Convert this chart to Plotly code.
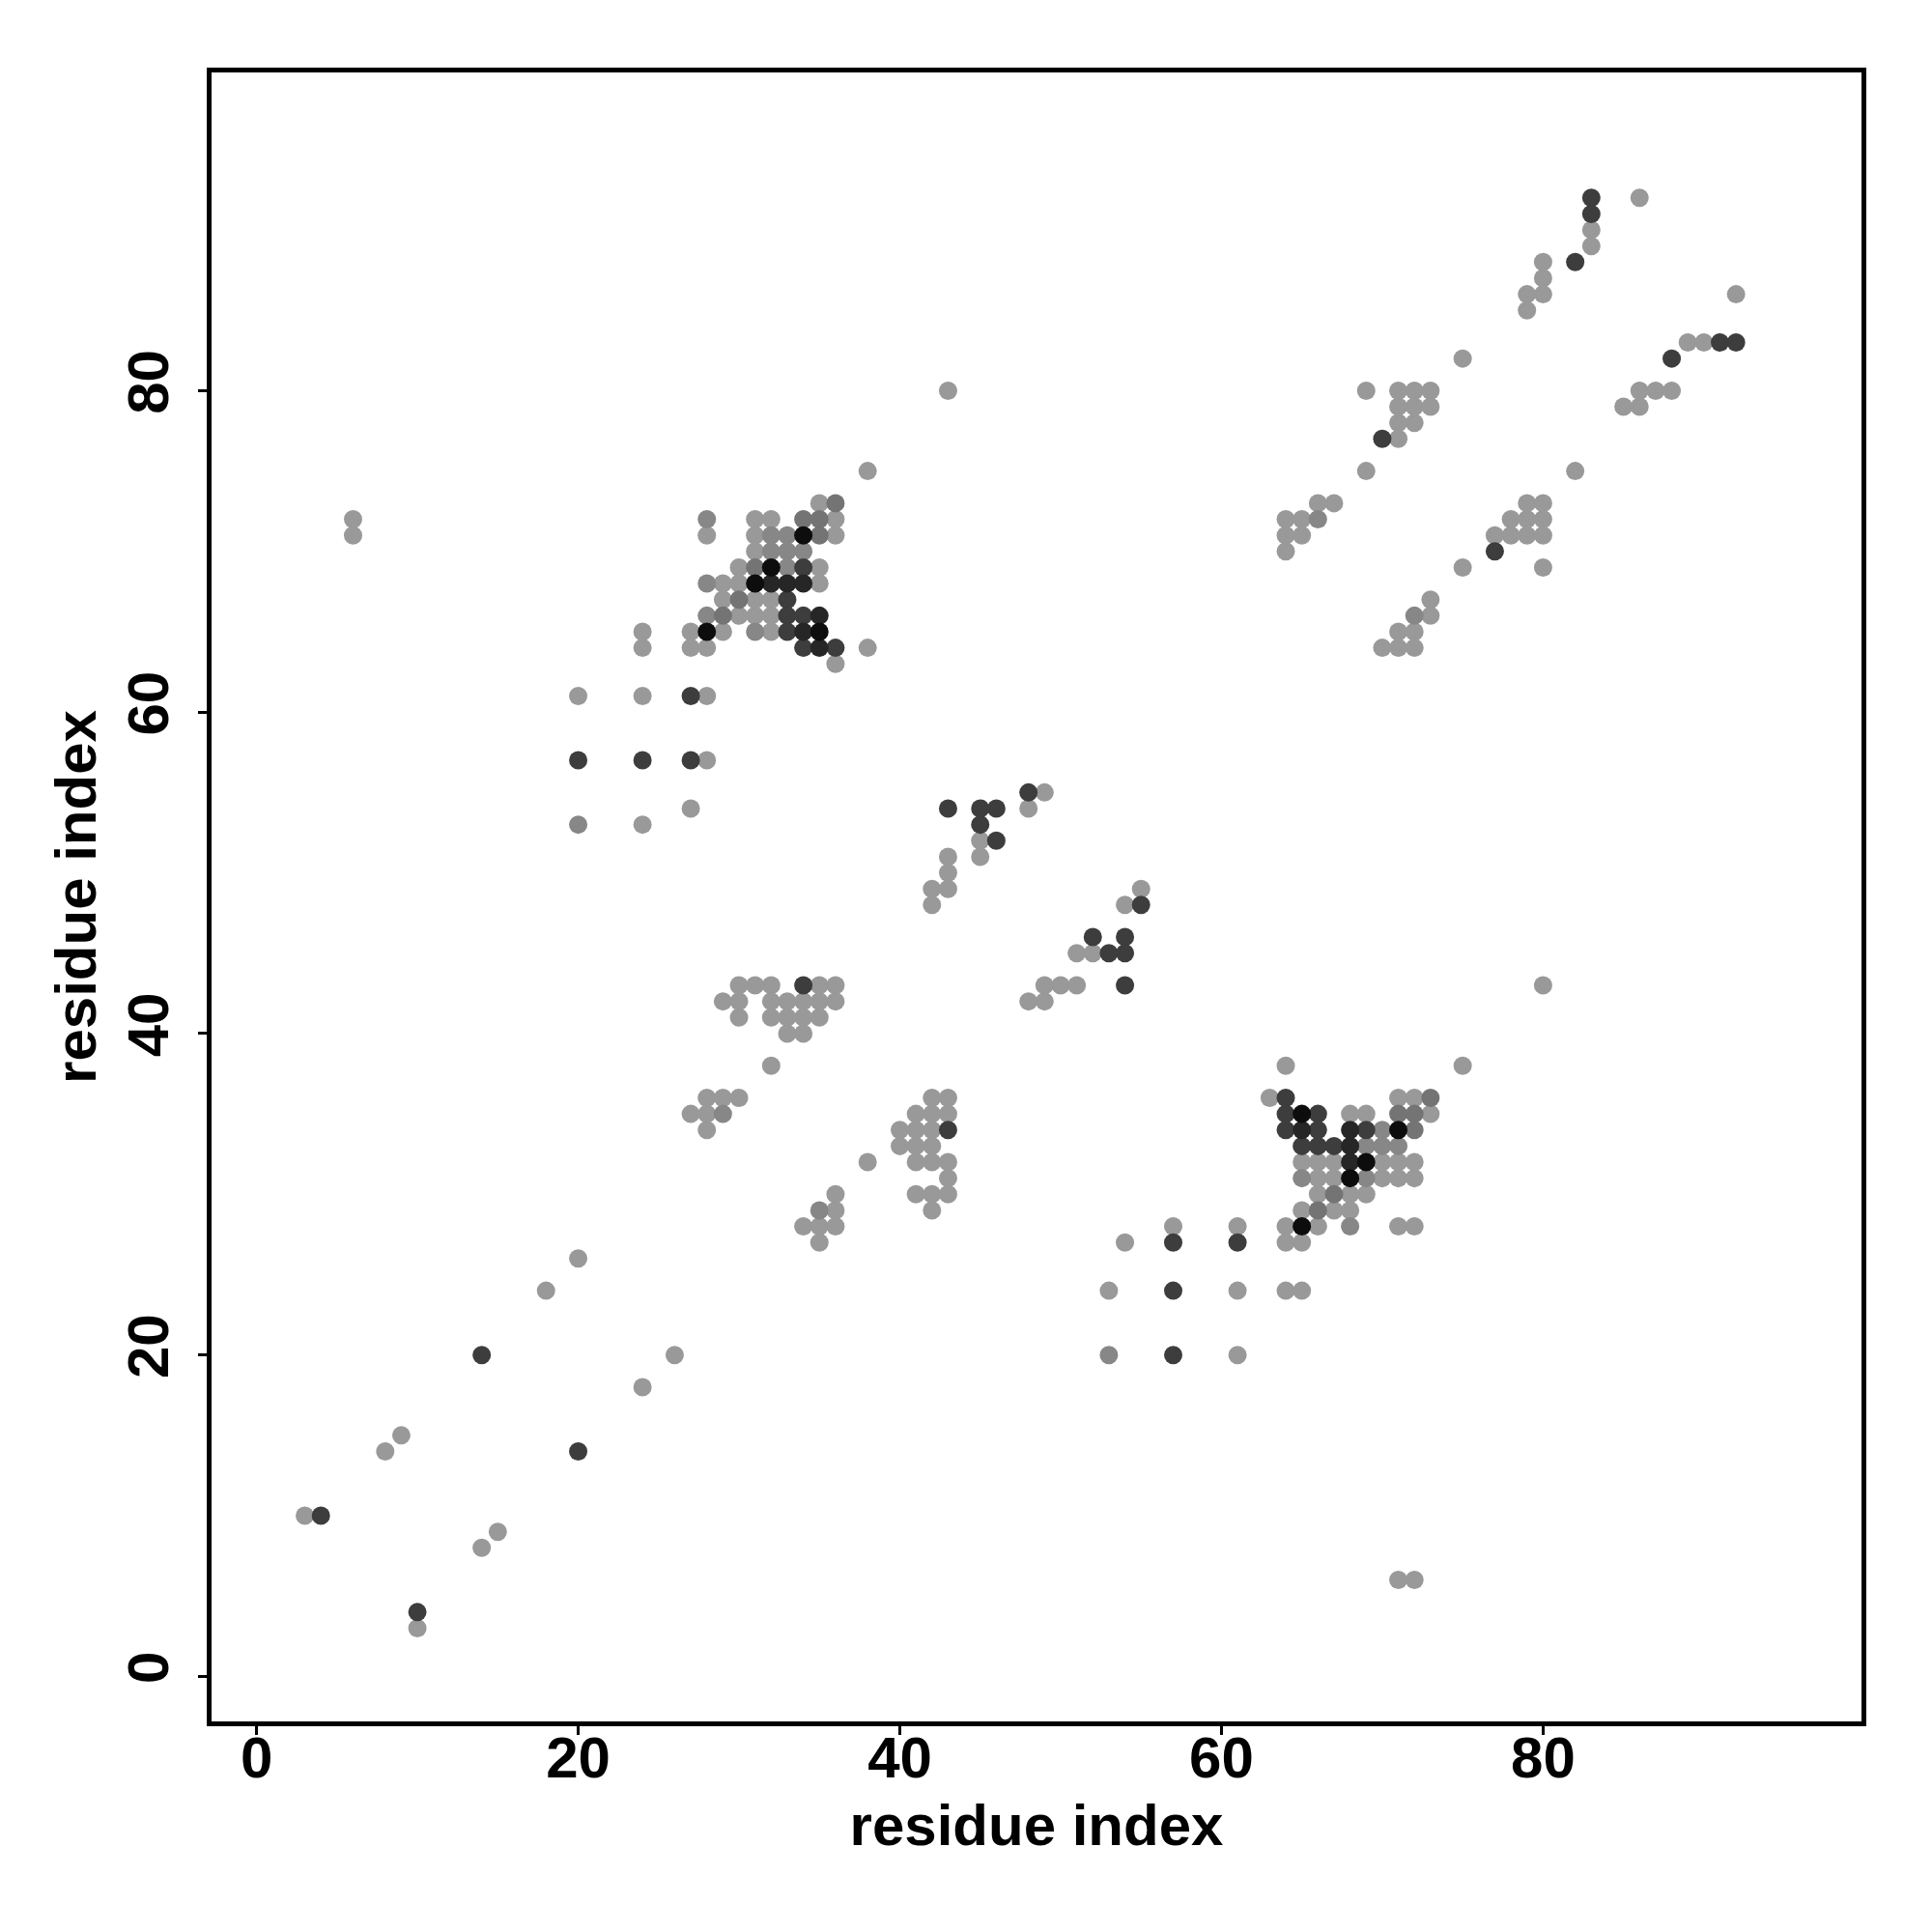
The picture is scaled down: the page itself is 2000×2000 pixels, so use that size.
import plotly.graph_objects as go

# Contact points grouped by grey shade (x = residue i, y = residue j)
light_pts = [
    (3, 10), (8, 14), (9, 15), (10, 3), (14, 8), (15, 9), (18, 24), (20, 26), (24, 18), (26, 20),
    (6, 71), (6, 72),
    (20, 61), (24, 61), (28, 61), (28, 57), (27, 54), (24, 53),
    (24, 64), (24, 65), (27, 64), (27, 65), (28, 64), (29, 65), (32, 65), (30, 66), (31, 66), (32, 66),
    (29, 67), (31, 67), (32, 67), (29, 68), (30, 68), (35, 68), (30, 69), (35, 69), (31, 70), (28, 71),
    (31, 71), (36, 71), (31, 72), (32, 72), (36, 72), (35, 73), (38, 75), (38, 64), (36, 63),
    (43, 80),
    (30, 43), (31, 43), (32, 43), (35, 43), (36, 43),
    (29, 42), (30, 42), (32, 42), (33, 42), (34, 42), (35, 42), (36, 42),
    (30, 41), (32, 41), (33, 41), (34, 41), (35, 41), (33, 40), (34, 40), (32, 38),
    (28, 36), (29, 36), (30, 36), (27, 35), (28, 35), (28, 34),
    (42, 36), (43, 36), (41, 35), (42, 35), (43, 35), (40, 34), (41, 34), (42, 34),
    (40, 33), (41, 33), (42, 33), (38, 32), (41, 32), (42, 32), (43, 32), (43, 31),
    (41, 30), (42, 30), (43, 30), (42, 29),
    (36, 30), (36, 29), (34, 28), (35, 28), (36, 28), (35, 27),
    (48, 54), (45, 52), (45, 51), (43, 51), (43, 50), (43, 49), (42, 49), (42, 48),
    (49, 55), (55, 49), (54, 48), (51, 45), (52, 45), (49, 43), (50, 43), (51, 43), (48, 42), (49, 42),
    (54, 27), (57, 28), (61, 28), (53, 24), (61, 24), (61, 20),
    (64, 38), (75, 38), (63, 36), (71, 36), (72, 36), (68, 35), (69, 35), (73, 35),
    (65, 32), (66, 32), (67, 32), (70, 32), (71, 32), (72, 32),
    (66, 31), (67, 31), (70, 31), (71, 31), (72, 31), (66, 30), (68, 30), (69, 30),
    (65, 29), (67, 29), (68, 29), (64, 28), (66, 28), (71, 28), (72, 28), (64, 27), (65, 27),
    (64, 24), (65, 24), (71, 6), (72, 6), (80, 43),
    (86, 92), (83, 90), (83, 89), (80, 88), (80, 87), (79, 86), (80, 86), (92, 86), (79, 85),
    (89, 83), (90, 83), (75, 82), (69, 80), (71, 80), (72, 80), (73, 80), (86, 80), (87, 80), (88, 80),
    (71, 79), (72, 79), (73, 79), (85, 79), (86, 79), (71, 78), (72, 78), (71, 77), (69, 75), (82, 75),
    (66, 73), (67, 73), (79, 73), (80, 73), (64, 72), (65, 72), (78, 72), (79, 72), (80, 72),
    (64, 71), (65, 71), (77, 71), (78, 71), (79, 71), (80, 71), (64, 70), (75, 69), (80, 69),
    (73, 67), (73, 66), (71, 65), (72, 65), (70, 64), (71, 64), (72, 64),
]
mid_pts = [
    (20, 53), (28, 72), (33, 71), (32, 71), (32, 70), (33, 70), (34, 70), (33, 69), (28, 68),
    (28, 66), (31, 65), (29, 35), (35, 29), (70, 34), (69, 33), (70, 33), (71, 33), (65, 31),
    (69, 31), (68, 28), (53, 20), (66, 72), (72, 66),
]
middark_pts = [
    (36, 73), (34, 72), (35, 72), (35, 71), (31, 69), (30, 67), (29, 66),
    (73, 36), (71, 35), (72, 35), (72, 34), (67, 30), (66, 29),
]
dark_pts = [
    (4, 10), (10, 4), (14, 20), (20, 14), (20, 57), (24, 57), (27, 57), (27, 61),
    (34, 69), (33, 67), (33, 66), (34, 66), (33, 65), (34, 64), (36, 64), (34, 43), (43, 34),
    (43, 54), (45, 54), (46, 54), (45, 53), (46, 52), (48, 55), (55, 48), (52, 46), (54, 46),
    (53, 45), (54, 45), (54, 43), (57, 27), (61, 27), (57, 24), (57, 20),
    (64, 36), (64, 35), (66, 35), (64, 34), (66, 34), (69, 34), (65, 33), (66, 33), (67, 33),
    (83, 92), (83, 91), (82, 88), (91, 83), (92, 83), (88, 82), (70, 77), (77, 70),
]
darker_pts = [
    (32, 68), (33, 68), (34, 68), (35, 66), (34, 65), (35, 64), (65, 34), (68, 33), (68, 32), (68, 34),
]
black_pts = [
    (34, 71), (32, 69), (31, 68), (28, 65), (35, 65), (65, 35), (71, 34), (69, 32), (68, 31), (65, 28),
]

x_ticks = [0, 20, 40, 60, 80]
axis_range = [-2.8, 99.8]

groups = [
    (light_pts, "#999999"),
    (mid_pts, "#878787"),
    (middark_pts, "#747474"),
    (dark_pts, "#3d3d3d"),
    (darker_pts, "#262626"),
    (black_pts, "#0d0d0d"),
]

fig = go.Figure()
for pts, col in groups:
    fig.add_trace(go.Scatter(
        x=[p[0] for p in pts], y=[p[1] for p in pts], mode="markers",
        marker=dict(size=19, color=col, line=dict(width=0)),
        showlegend=False, hoverinfo="skip",
    ))

font_main = dict(family="Liberation Sans, Arial, sans-serif", size=60, color="black", weight="bold")

axis_common = dict(
    range=axis_range, tickvals=x_ticks, ticks="outside", ticklen=9, tickwidth=3,
    tickcolor="black", showline=True, linewidth=5, linecolor="black", mirror=True,
    showgrid=False, zeroline=False, tickfont=font_main,
)

fig.update_layout(
    width=1984, height=1984,
    margin=dict(l=211, r=65, t=67, b=210),
    paper_bgcolor="white", plot_bgcolor="white",
    xaxis=dict(**axis_common, ticklabelstandoff=-28,
               title=dict(text="residue index", font=font_main, standoff=17)),
    yaxis=dict(**axis_common, tickangle=-90, ticklabelstandoff=7,
               title=dict(text="residue index", font=font_main, standoff=3)),
)

fig.write_html("out.html")
